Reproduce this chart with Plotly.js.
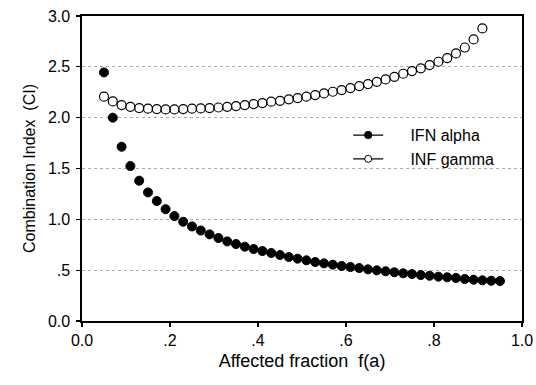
<!DOCTYPE html>
<html>
<head>
<meta charset="utf-8">
<script src="https://cdn.plot.ly/plotly-3.0.1.min.js"></script>
<style>html,body{margin:0;padding:0;background:#fff;}#chart{width:536px;height:385px;}</style>
</head>
<body>
<div id="chart"></div>
<script>
const fAlpha = [0.05,0.07,0.09,0.11,0.13,0.15,0.17,0.19,0.21,0.23,0.25,0.27,0.29,0.31,0.33,0.35,0.37,0.39,0.41,0.43,0.45,0.47,0.49,0.51,0.53,0.55,0.57,0.59,0.61,0.63,0.65,0.67,0.69,0.71,0.73,0.75,0.77,0.79,0.81,0.83,0.85,0.87,0.89,0.91,0.93,0.95];
const ciAlpha = [2.445,2.00,1.714,1.524,1.38,1.265,1.18,1.10,1.032,0.976,0.93,0.89,0.852,0.816,0.783,0.757,0.731,0.708,0.688,0.669,0.649,0.63,0.613,0.597,0.58,0.567,0.554,0.541,0.531,0.521,0.508,0.498,0.489,0.479,0.469,0.462,0.452,0.445,0.436,0.43,0.423,0.413,0.406,0.40,0.396,0.393];
const fGamma = [0.05,0.07,0.09,0.11,0.13,0.15,0.17,0.19,0.21,0.23,0.25,0.27,0.29,0.31,0.33,0.35,0.37,0.39,0.41,0.43,0.45,0.47,0.49,0.51,0.53,0.55,0.57,0.59,0.61,0.63,0.65,0.67,0.69,0.71,0.73,0.75,0.77,0.79,0.81,0.83,0.85,0.87,0.89,0.91];
const ciGamma = [2.206,2.16,2.124,2.107,2.094,2.088,2.085,2.081,2.081,2.085,2.088,2.091,2.094,2.10,2.107,2.114,2.124,2.134,2.144,2.157,2.166,2.18,2.193,2.206,2.222,2.238,2.255,2.271,2.291,2.311,2.33,2.353,2.376,2.402,2.432,2.458,2.485,2.517,2.55,2.586,2.632,2.69,2.77,2.878];
const seriesNames = ["IFN alpha", "INF gamma"];
const xTickVals = [0, 0.2, 0.4, 0.6, 0.8, 1.0];
const xTickText = ["0.0", ".2", ".4", ".6", ".8", "1.0"];
const yTickVals = [0, 0.5, 1.0, 1.5, 2.0, 2.5, 3.0];
const yTickText = ["0.0", ".5", "1.0", "1.5", "2.0", "2.5", "3.0"];

const font = "Liberation Sans, Arial, sans-serif";
const pad = "\u00a0\u00a0\u00a0\u00a0\u00a0";
const traces = [
  {x: fAlpha, y: ciAlpha, mode: "markers", type: "scatter", showlegend: false,
   marker: {symbol: "circle", size: 9, color: "#000", line: {color: "#000", width: 1}}},
  {x: fGamma, y: ciGamma, mode: "markers", type: "scatter", showlegend: false,
   marker: {symbol: "circle-open", size: 9, color: "#000", line: {color: "#000", width: 1.2}}},
  {x: [null], y: [null], mode: "lines+markers", type: "scatter", name: pad + seriesNames[0],
   line: {color: "#000", width: 1.3}, marker: {symbol: "circle", size: 8, color: "#000"}},
  {x: [null], y: [null], mode: "lines+markers", type: "scatter", name: pad + seriesNames[1],
   line: {color: "#000", width: 1.3}, marker: {symbol: "circle", size: 7, color: "#fff", line: {color: "#000", width: 1}}}
];
const layout = {
  width: 536, height: 385,
  margin: {l: 82, r: 14, t: 16, b: 64},
  paper_bgcolor: "#fff", plot_bgcolor: "#fff",
  font: {family: font, color: "#000", size: 15},
  showlegend: true,
  legend: {x: 0.605, y: 0.665, xanchor: "left", yanchor: "top", bgcolor: "rgba(0,0,0,0)",
           font: {family: font, size: 16, color: "#000"}, tracegroupgap: 0, itemwidth: 30},
  xaxis: {range: [0, 1], tickvals: xTickVals, ticktext: xTickText, ticks: "outside", ticklen: 4,
          tickcolor: "#000", tickwidth: 1.3, showline: true, linecolor: "#000", linewidth: 1.6, mirror: true,
          showgrid: false, zeroline: false, tickfont: {size: 16},
          title: {text: "Affected fraction\u00a0 f(a)", font: {size: 18}, standoff: 6}},
  yaxis: {range: [0, 3], tickvals: yTickVals, ticktext: yTickText, ticks: "outside", ticklen: 4,
          tickcolor: "#000", tickwidth: 1.3, showline: true, linecolor: "#000", linewidth: 1.6, mirror: true,
          showgrid: true, gridcolor: "#aaa", griddash: "dot", gridwidth: 1, zeroline: false,
          tickfont: {size: 16}, ticklabelstandoff: 3,
          title: {text: "Combination Index\u00a0 (CI)", font: {size: 16}, standoff: 8}}
};
Plotly.newPlot("chart", traces, layout, {displayModeBar: false, staticPlot: true});
</script>
</body>
</html>
